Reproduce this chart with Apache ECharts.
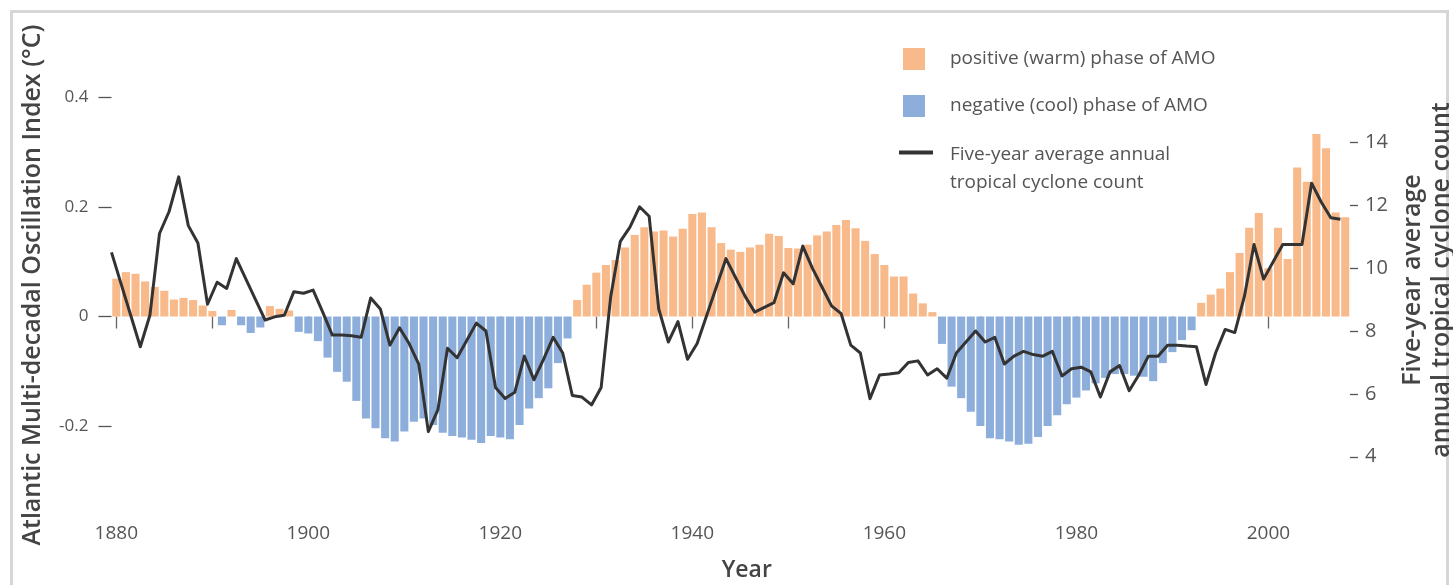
<!DOCTYPE html>
<html><head><meta charset="utf-8">
<script src="https://cdn.jsdelivr.net/npm/echarts@6/dist/echarts.min.js"></script>
<style>html,body{margin:0;padding:0;background:#fff;overflow:hidden}#chart{width:1453px;height:585px}</style>
</head><body><div id="chart"></div>
<script>
const firstYear = 1880;
// AMO index (°C), one bar per year 1880-2008
const amo = [
  0.069, 0.081, 0.078, 0.064, 0.054, 0.047, 0.031, 0.034, 0.030, 0.020,
  0.010, -0.016, 0.012, -0.016, -0.030, -0.020, 0.019, 0.014, 0.011, -0.028,
  -0.031, -0.045, -0.075, -0.101, -0.119, -0.154, -0.186, -0.204, -0.222, -0.228,
  -0.210, -0.192, -0.186, -0.198, -0.212, -0.218, -0.221, -0.225, -0.231, -0.218,
  -0.221, -0.224, -0.198, -0.168, -0.149, -0.131, -0.085, -0.040, 0.030, 0.058,
  0.080, 0.094, 0.103, 0.126, 0.149, 0.163, 0.155, 0.157, 0.146, 0.160,
  0.187, 0.190, 0.163, 0.134, 0.122, 0.118, 0.126, 0.131, 0.151, 0.147,
  0.125, 0.124, 0.131, 0.148, 0.155, 0.167, 0.176, 0.161, 0.138, 0.114,
  0.094, 0.073, 0.073, 0.042, 0.024, 0.008, -0.050, -0.128, -0.149, -0.174,
  -0.200, -0.222, -0.224, -0.228, -0.234, -0.232, -0.220, -0.200, -0.180, -0.160,
  -0.148, -0.135, -0.122, -0.112, -0.105, -0.105, -0.108, -0.110, -0.118, -0.085,
  -0.065, -0.043, -0.025, 0.025, 0.040, 0.051, 0.081, 0.116, 0.162, 0.189,
  0.088, 0.162, 0.105, 0.272, 0.246, 0.333, 0.307, 0.190, 0.181
];
// Five-year average annual tropical cyclone count, 1880-2008
const cyclones = [
  10.5, 9.5, 8.5, 7.5, 8.5, 11.1, 11.8, 12.9, 11.35, 10.8,
  8.85, 9.55, 9.35, 10.3, 9.65, 9.0, 8.35, 8.45, 8.5, 9.25,
  9.2, 9.3, 8.6, 7.87, 7.87, 7.85, 7.8, 9.05, 8.7, 7.55,
  8.1, 7.6, 6.95, 4.8, 5.5, 7.45, 7.15, 7.7, 8.25, 8.0,
  6.2, 5.85, 6.05, 7.2, 6.45, 7.1, 7.8, 7.3, 5.95, 5.9,
  5.65, 6.2, 9.1, 10.85, 11.3, 11.95, 11.65, 8.7, 7.65, 8.3,
  7.1, 7.6, 8.5, 9.4, 10.3, 9.7, 9.1, 8.6, 8.75, 8.9,
  9.85, 9.5, 10.7, 10.0, 9.4, 8.8, 8.55, 7.55, 7.3, 5.85,
  6.6, 6.63, 6.67, 7.0, 7.05, 6.6, 6.8, 6.5, 7.3, 7.65,
  8.0, 7.65, 7.8, 6.95, 7.2, 7.35, 7.25, 7.2, 7.35, 6.57,
  6.8, 6.85, 6.7, 5.9, 6.7, 6.9, 6.1, 6.6, 7.2, 7.2,
  7.55, 7.55, 7.52, 7.5, 6.3, 7.3, 8.05, 7.95, 9.1, 10.75,
  9.65, 10.2, 10.75, 10.75, 10.75, 12.7, 12.1, 11.6, 11.55
];
const years = amo.map((_, i) => String(firstYear + i));
const lineYears = years.concat([String(firstYear + amo.length)]);
const xLabelYears = ['1880', '1900', '1920', '1940', '1960', '1980', '2000'];
const leftTicks = [-0.2, 0, 0.2, 0.4];
const rightTicks = [4, 6, 8, 10, 12, 14];
const posName = 'positive (warm) phase of AMO';
const negName = 'negative (cool) phase of AMO';
const lineName = 'Five-year average annual\ntropical cyclone count';
const positive = amo.map(v => (v >= 0 ? v : '-'));
const negative = amo.map(v => (v < 0 ? v : '-'));

const FONT = "'Open Sans', 'Noto Sans', sans-serif";
const ORANGE = '#F8BA8B';
const BLUE = '#8DAEDA';
const chart = echarts.init(document.getElementById('chart'), null, { renderer: 'canvas' });
chart.setOption({
  animation: false,
  backgroundColor: '#ffffff',
  textStyle: { fontFamily: FONT },
  grid: { left: 111.5, right: 103, top: 60, bottom: 95, containLabel: false, outerBoundsMode: 'none' },
  graphic: [{
    type: 'rect', left: 9, top: 9, silent: true,
    shape: { width: 1436, height: 600 },
    style: { fill: 'none', stroke: '#d6d6d6', lineWidth: 3 }
  }],
  legend: [{
    orient: 'vertical', left: 903, top: 48, itemWidth: 22, itemHeight: 22, itemGap: 25,
    icon: 'rect', padding: 0, selectedMode: false,
    data: [posName, negName],
    textStyle: { fontFamily: FONT, fontSize: 19, color: '#555', padding: [0, 0, 0, 20] }
  }, {
    orient: 'vertical', left: 899, top: 141, itemWidth: 34, itemHeight: 56,
    padding: 0, selectedMode: false,
    data: [{ name: lineName, icon: 'path://M0,0M0,56M0,9.5H34V13.5H0Z' }],
    textStyle: { fontFamily: FONT, fontSize: 19, color: '#555', lineHeight: 28, padding: [0, 0, 0, 12] }
  }],
  xAxis: [{
    type: 'category', data: years, boundaryGap: true, offset: 13,
    axisLine: { show: false },
    axisTick: { show: true, alignWithLabel: true, length: 12, lineStyle: { color: '#666', width: 1.3 },
      interval: (idx, val) => Number(val) % 10 === 0 },
    axisLabel: { interval: (idx, val) => xLabelYears.includes(val), margin: 21, fontSize: 19, color: '#555', fontFamily: FONT },
    name: 'Year', nameLocation: 'middle', nameGap: 56,
    nameTextStyle: { fontSize: 23, fontWeight: 600, color: '#444', fontFamily: FONT, padding: [0, 0, 0, 32] }
  }, {
    type: 'category', data: lineYears, boundaryGap: false, show: false
  }],
  yAxis: [{
    type: 'value', position: 'left', min: -0.3166, max: 0.4681,
    splitLine: { show: false },
    axisLine: { show: false },
    axisTick: { show: true, length: 13, customValues: leftTicks, lineStyle: { color: '#555', width: 1.3 } },
    axisLabel: { customValues: leftTicks, margin: 23, fontSize: 17, color: '#555', fontFamily: FONT },
    name: 'Atlantic Multi-decadal Oscillation Index (°C)', nameLocation: 'middle', nameRotate: 90, nameGap: 64,
    nameTextStyle: { fontSize: 25, fontWeight: 600, color: '#444', fontFamily: FONT, lineHeight: 30, padding: [0, 20, 0, 0] }
  }, {
    type: 'value', position: 'right', min: 2.944, max: 16.617,
    splitLine: { show: false },
    axisLine: { show: false },
    axisTick: { show: true, length: 8, customValues: rightTicks, lineStyle: { color: '#555', width: 1.3 } },
    axisLabel: { customValues: rightTicks, margin: 15, fontSize: 20, color: '#555', fontFamily: FONT },
    name: 'Five-year average\nannual tropical cyclone count', nameLocation: 'middle', nameRotate: 90, nameGap: 48,
    nameTextStyle: { fontSize: 25, fontWeight: 600, color: '#444', fontFamily: FONT, lineHeight: 29, padding: [0, 10, 0, 0] }
  }],
  series: [{
    name: posName, type: 'bar', xAxisIndex: 0, yAxisIndex: 0, data: positive,
    barGap: '-100%', barCategoryGap: '16%', itemStyle: { color: ORANGE }
  }, {
    name: negName, type: 'bar', xAxisIndex: 0, yAxisIndex: 0, data: negative,
    barGap: '-100%', barCategoryGap: '16%', itemStyle: { color: BLUE }
  }, {
    name: lineName, type: 'line', xAxisIndex: 1, yAxisIndex: 1, data: cyclones,
    symbol: 'none', z: 5,
    lineStyle: { color: '#333', width: 3, join: 'round' },
    itemStyle: { color: '#333' }
  }]
});
</script></body></html>
